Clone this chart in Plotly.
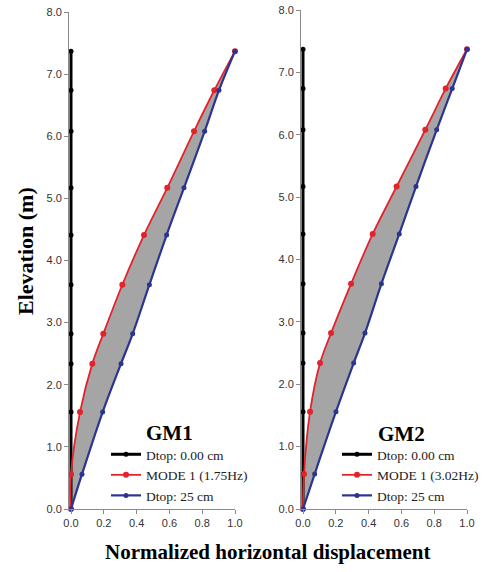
import plotly.graph_objects as go

elev = [0.0, 0.56, 1.56, 2.34, 2.82, 3.61, 4.41, 5.17, 6.08, 6.74, 7.37]
dtop0 = [0.0] * 11
gm1_mode = [0.0, 0.0, 0.055, 0.13, 0.197, 0.313, 0.445, 0.587, 0.75, 0.874, 1.0]
gm1_d25 = [0.0, 0.067, 0.193, 0.305, 0.376, 0.478, 0.583, 0.689, 0.815, 0.902, 1.0]
gm2_mode = [0.0, 0.006, 0.043, 0.104, 0.171, 0.293, 0.425, 0.571, 0.746, 0.87, 1.0]
gm2_d25 = [0.0, 0.071, 0.201, 0.309, 0.378, 0.478, 0.587, 0.689, 0.815, 0.91, 1.0]

panels = [("GM1", "MODE 1 (1.75Hz)", gm1_mode, gm1_d25),
          ("GM2", "MODE 1 (3.02Hz)", gm2_mode, gm2_d25)]
x_ticks = [0.0, 0.2, 0.4, 0.6, 0.8, 1.0]
y_ticks = [0, 1, 2, 3, 4, 5, 6, 7, 8]

RED = "#e3232b"
BLUE = "#2b3491"
GRAY = "#a5a5a5"
SERIF = "Liberation Serif, Times New Roman, serif"
SANS = "Liberation Sans, Arial, sans-serif"
W, H = 491, 572
XMIN = -0.012

fig = go.Figure()
for i, (name, mode_name, mode, d25) in enumerate(panels):
    xa = "x" if i == 0 else "x2"
    ya = "y" if i == 0 else "y2"
    lg = "legend" if i == 0 else "legend2"
    fig.add_trace(go.Scatter(x=mode, y=elev, xaxis=xa, yaxis=ya, mode="lines", legend=lg,
                             line=dict(width=0, shape="spline", color=RED),
                             showlegend=False, hoverinfo="skip"))
    fig.add_trace(go.Scatter(x=d25, y=elev, xaxis=xa, yaxis=ya, mode="lines", legend=lg,
                             line=dict(width=0, shape="spline", color=BLUE),
                             fill="tonextx", fillcolor=GRAY,
                             showlegend=False, hoverinfo="skip"))
    fig.add_trace(go.Scatter(x=dtop0, y=elev, xaxis=xa, yaxis=ya, mode="lines+markers",
                             name="Dtop: 0.00 cm", legend=lg,
                             line=dict(width=3, color="black"),
                             marker=dict(size=5, color="black"), cliponaxis=False))
    fig.add_trace(go.Scatter(x=mode, y=elev, xaxis=xa, yaxis=ya, mode="lines+markers",
                             name=mode_name, legend=lg,
                             line=dict(width=1.8, color=RED, shape="spline"),
                             marker=dict(size=6, color=RED), cliponaxis=False))
    fig.add_trace(go.Scatter(x=d25, y=elev, xaxis=xa, yaxis=ya, mode="lines+markers",
                             name="Dtop: 25 cm", legend=lg,
                             line=dict(width=2.2, color=BLUE, shape="spline"),
                             marker=dict(size=5, color=BLUE), cliponaxis=False))

axis_common = dict(showgrid=False, zeroline=False, showline=True, linecolor="#8a8a8a",
                   linewidth=1, ticks="outside", tickcolor="#8a8a8a", ticklen=4,
                   automargin=False,
                   tickfont=dict(family=SANS, size=11, color="#333333"))

def xdom(x0, x1):
    span = x1 - x0
    return [(x0 + XMIN * span) / W, x1 / W]

legend_common = dict(xanchor="left", yanchor="top", bgcolor="rgba(0,0,0,0)",
                     font=dict(family=SERIF, size=13.5, color="#222"),
                     tracegroupgap=0, itemwidth=30, traceorder="normal")

fig.update_layout(
    width=W, height=H, margin=dict(l=0, r=0, t=0, b=0, autoexpand=False),
    paper_bgcolor="white", plot_bgcolor="white",
    xaxis=dict(domain=xdom(71, 235), range=[XMIN, 1], tickvals=x_ticks,
               tickformat=".1f", anchor="y", **axis_common),
    yaxis=dict(domain=[(H-509)/H, (H-12)/H], range=[0, 8], tickvals=y_ticks,
               tickformat=".1f", anchor="x", **axis_common),
    xaxis2=dict(domain=xdom(303, 467), range=[XMIN, 1], tickvals=x_ticks,
                tickformat=".1f", anchor="y2", **axis_common),
    yaxis2=dict(domain=[(H-509)/H, (H-10)/H], range=[0, 8], tickvals=y_ticks,
                tickformat=".1f", anchor="x2", **axis_common),
    legend=dict(x=106/W, y=(H-439)/H, **legend_common),
    legend2=dict(x=337/W, y=(H-439)/H, **legend_common),
    annotations=[
        dict(text="<b>GM1</b>", x=144/W, y=(H-433)/H, xref="paper", yref="paper",
             xanchor="left", yanchor="middle", showarrow=False,
             font=dict(family=SERIF, size=21, color="black")),
        dict(text="<b>GM2</b>", x=376/W, y=(H-434)/H, xref="paper", yref="paper",
             xanchor="left", yanchor="middle", showarrow=False,
             font=dict(family=SERIF, size=21, color="black")),
        dict(text="<b>Elevation (m)</b>", x=25/W, y=(H-251)/H, xref="paper", yref="paper",
             xanchor="center", yanchor="middle", showarrow=False, textangle=-90,
             font=dict(family=SERIF, size=22, color="black")),
        dict(text="<b>Normalized horizontal displacement</b>", x=267/W, y=(H-552)/H,
             xref="paper", yref="paper", xanchor="center", yanchor="middle", showarrow=False,
             font=dict(family=SERIF, size=21, color="black")),
    ],
)

fig.write_html("out.html", config={"displayModeBar": False},
               post_script="document.body.style.margin='0';document.body.style.overflow='hidden';")
